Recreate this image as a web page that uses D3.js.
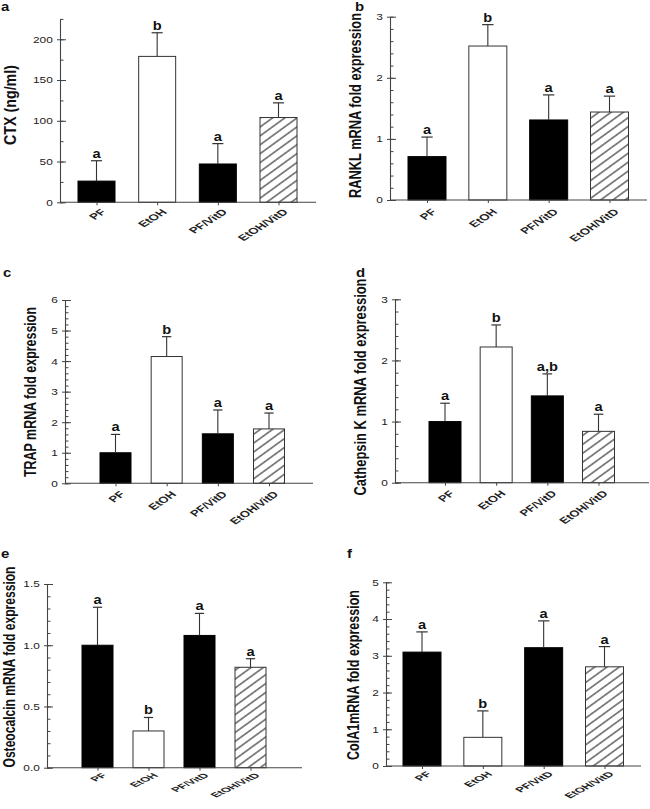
<!DOCTYPE html>
<html><head><meta charset="utf-8">
<script src="https://cdn.jsdelivr.net/npm/d3@7"></script>
<style>
html,body{margin:0;padding:0;background:#fff;}
svg{display:block;font-family:"Liberation Sans",Arial,sans-serif;}
</style></head>
<body>
<svg id="chart" width="650" height="809"></svg>
<script>
// ---- data ----
const categories = ["PF", "EtOH", "PF/VitD", "EtOH/VitD"];
const fills = ["black", "white", "black", "hatch"];

const ctxMean = [26, 179, 47, 104];
const ctxErr = [25, 29, 25, 18];
const ctxSig = ["a", "b", "a", "a"];

const ranklMean = [0.71, 2.52, 1.31, 1.44];
const ranklErr = [0.32, 0.35, 0.41, 0.26];
const ranklSig = ["a", "b", "a", "a"];

const trapMean = [1.0, 4.15, 1.62, 1.78];
const trapErr = [0.6, 0.65, 0.78, 0.52];
const trapSig = ["a", "b", "a", "a"];

const catkMean = [1.0, 2.22, 1.42, 0.84];
const catkErr = [0.3, 0.36, 0.36, 0.28];
const catkSig = ["a", "b", "a,b", "a"];

const ocMean = [1.0, 0.30, 1.08, 0.82];
const ocErr = [0.31, 0.11, 0.18, 0.07];
const ocSig = ["a", "b", "a", "a"];

const colMean = [3.1, 0.78, 3.22, 2.7];
const colErr = [0.55, 0.72, 0.73, 0.55];
const colSig = ["a", "b", "a", "a"];

const ctxTicks = [0, 50, 100, 150, 200];
const ranklTicks = [0, 1, 2, 3];
const trapTicks = [0, 1, 2, 3, 4, 5, 6];
const catkTicks = [0, 1, 2, 3];
const ocTicks = [0, 0.5, 1.0, 1.5];
const colTicks = [0, 1, 2, 3, 4, 5];

// ---- layout ----
const panels = [
  {letter:"a", title:"CTX (ng/ml)", mean:ctxMean, err:ctxErr, sig:ctxSig, ticks:ctxTicks, fmt:d3.format("d"),
   ymax:225, minor:25, ax:60, ar:316, y0:202.3, yT:18.9, c0:96.5, c1:278.5, bw:37,
   tx:10.5, ty:105, tl:80, lx:1, ly:11, xsx:1.5, xsy:0.95, xoy:6},
  {letter:"b", title:"RANKL mRNA fold expression", mean:ranklMean, err:ranklErr, sig:ranklSig, ticks:ranklTicks, fmt:d3.format("d"),
   ymax:3, minor:0.2, ax:390, ar:647, y0:200, yT:16.7, c0:427, c1:609.5, bw:38,
   tx:355, ty:105.5, tl:185, lx:355, ly:11, xsx:1.48, xsy:0.98, xoy:8},
  {letter:"c", title:"TRAP mRNA fold expression", mean:trapMean, err:trapErr, sig:trapSig, ticks:trapTicks, fmt:d3.format("d"),
   ymax:6, minor:0.2, ax:65, ar:313, y0:483.3, yT:300, c0:115.5, c1:269, bw:31,
   tx:30, ty:392, tl:170, lx:3, ly:277, xsx:1.45, xsy:1.0, xoy:7},
  {letter:"d", title:"Cathepsin K mRNA fold expression", mean:catkMean, err:catkErr, sig:catkSig, ticks:catkTicks, fmt:d3.format("d"),
   ymax:3, minor:0.2, ax:395, ar:649, y0:482.7, yT:299.3, c0:445, c1:598.5, bw:32,
   tx:360, ty:387, tl:217, lx:356, ly:277, xsx:1.45, xsy:1.0, xoy:7},
  {letter:"e", title:"Osteocalcin mRNA fold expression", mean:ocMean, err:ocErr, sig:ocSig, ticks:ocTicks, fmt:d3.format(".1f"),
   ymax:1.5, minor:0.1, ax:47, ar:302, y0:767.7, yT:584, c0:97.5, c1:250.5, bw:31,
   tx:9, ty:667, tl:201, lx:1, ly:558, xsx:1.48, xsy:0.72, xoy:5},
  {letter:"f", title:"ColA1mRNA fold expression", mean:colMean, err:colErr, sig:colSig, ticks:colTicks, fmt:d3.format("d"),
   ymax:5, minor:0.2, ax:386, ar:641, y0:766, yT:582.3, c0:422, c1:604.5, bw:38,
   tx:353, ty:675, tl:170, lx:347, ly:558, xsx:1.48, xsy:0.8, xoy:5}
];

const SX = 1.38; // horizontal stretch of the source figure's tick text
const svg = d3.select("#chart");

const defs = svg.append("defs");
defs.append("pattern").attr("id","hatch").attr("patternUnits","userSpaceOnUse")
  .attr("width",7.2).attr("height",7.2).attr("patternTransform","rotate(-36)")
  .append("line").attr("x1",-1).attr("x2",9).attr("y1",3.6).attr("y2",3.6)
  .attr("stroke","#111").attr("stroke-width",1);

const axisColor = "#444";

panels.forEach(p => {
  const g = svg.append("g");
  const y = d3.scaleLinear().domain([0, p.ymax]).range([p.y0, p.yT]);
  const x = d3.scalePoint().domain(categories).range([p.c0, p.c1]);

  // minor ticks (inward)
  const minors = d3.range(0, p.ymax + p.minor/2, p.minor);
  const gMin = g.append("g").attr("transform",`translate(${p.ax},0)`)
    .call(d3.axisRight(y).tickValues(minors).tickSize(3.5).tickSizeOuter(0).tickFormat(""));
  gMin.select(".domain").remove();
  gMin.selectAll("line").attr("stroke",axisColor);

  // major ticks + labels
  const gY = g.append("g").attr("transform",`translate(${p.ax},0)`)
    .call(d3.axisLeft(y).tickValues(p.ticks).tickFormat(p.fmt).tickSize(3).tickSizeOuter(0));
  gY.select(".domain").attr("stroke",axisColor).attr("stroke-width",1.1);
  gY.selectAll(".tick line").attr("x1",6).attr("x2",-3).attr("stroke",axisColor);
  gY.selectAll(".tick text")
    .attr("x",-5.2).attr("dy","0.34em")
    .attr("transform",`scale(${SX},1)`)
    .attr("font-size",8.6).attr("fill","#222").attr("font-family","Liberation Sans, Arial, sans-serif");

  // bars
  g.selectAll("rect.bar").data(categories).enter().append("rect")
    .attr("x", d => x(d) - p.bw/2)
    .attr("y", (d,i) => y(p.mean[i]))
    .attr("width", p.bw)
    .attr("height", (d,i) => p.y0 - y(p.mean[i]))
    .attr("fill", (d,i) => fills[i] === "hatch" ? "url(#hatch)" : fills[i])
    .attr("stroke", (d,i) => fills[i] === "black" ? "#000" : "#333")
    .attr("stroke-width", 1);

  // error bars
  const cap = p.bw * 0.15;
  categories.forEach((d,i) => {
    const cx = x(d), top = y(p.mean[i] + p.err[i]);
    g.append("line").attr("x1",cx).attr("x2",cx).attr("y1",y(p.mean[i])).attr("y2",top)
      .attr("stroke","#333").attr("stroke-width",1.1);
    g.append("line").attr("x1",cx-cap).attr("x2",cx+cap).attr("y1",top).attr("y2",top)
      .attr("stroke","#333").attr("stroke-width",1.2);
    g.append("text").attr("transform",`translate(${cx},${top-3}) scale(1.22,1)`)
      .attr("text-anchor","middle").attr("font-size",12).attr("font-weight","bold")
      .attr("fill","#111").text(p.sig[i]);
  });

  // x axis
  g.append("line").attr("x1",p.ax).attr("x2",p.ar).attr("y1",p.y0).attr("y2",p.y0)
    .attr("stroke",axisColor).attr("stroke-width",1.1);
  const gX = g.append("g").attr("transform",`translate(0,${p.y0})`)
    .call(d3.axisBottom(x).tickSize(3).tickSizeOuter(0));
  gX.select(".domain").remove();
  gX.selectAll(".tick line").attr("stroke",axisColor);
  gX.selectAll(".tick text")
    .attr("x",0).attr("y",0).attr("dy","0.72em")
    .attr("text-anchor","end")
    .attr("transform",`translate(3,${p.xoy}) scale(${p.xsx},${p.xsy}) rotate(-45)`)
    .attr("font-size",9).attr("font-weight","bold").attr("fill","#222")
    .attr("font-family","Liberation Sans, Arial, sans-serif");

  // y title
  g.append("text")
    .attr("transform",`translate(${p.tx},${p.ty}) scale(1.15,1) rotate(-90)`)
    .attr("text-anchor","middle").attr("dy","0.36em")
    .attr("font-size",14).attr("font-weight","bold").attr("fill","#111")
    .attr("textLength",p.tl).attr("lengthAdjust","spacingAndGlyphs")
    .text(p.title);

  // panel letter
  g.append("text")
    .attr("transform",`translate(${p.lx},${p.ly}) scale(1.15,1)`)
    .attr("font-size",13).attr("font-weight","bold").attr("fill","#111")
    .text(p.letter);
});
</script>
</body></html>
